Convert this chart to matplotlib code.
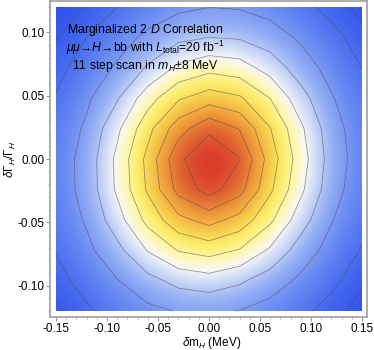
import matplotlib
matplotlib.use("Agg")
import matplotlib.pyplot as plt
import numpy as np
from matplotlib.colors import LinearSegmentedColormap
from matplotlib.patches import Rectangle

# scan grid (11 steps in each direction)
dm = [-0.15, -0.12, -0.09, -0.06, -0.03, 0.0, 0.03, 0.06, 0.09, 0.12, 0.15]
dgam = [-0.12, -0.096, -0.072, -0.048, -0.024, 0.0, 0.024, 0.048, 0.072, 0.096, 0.12]

# marginalized likelihood, rows = dgam (bottom -> top), cols = dm (left -> right)
lik = [
    [0.040, 0.087, 0.136, 0.177, 0.205, 0.213, 0.198, 0.163, 0.120, 0.070, 0.028],
    [0.072, 0.134, 0.196, 0.267, 0.331, 0.356, 0.316, 0.249, 0.181, 0.119, 0.057],
    [0.104, 0.176, 0.271, 0.407, 0.506, 0.539, 0.494, 0.385, 0.253, 0.164, 0.094],
    [0.128, 0.212, 0.358, 0.531, 0.671, 0.737, 0.663, 0.520, 0.345, 0.206, 0.123],
    [0.140, 0.237, 0.417, 0.614, 0.835, 0.941, 0.839, 0.618, 0.421, 0.241, 0.142],
    [0.141, 0.239, 0.424, 0.629, 0.878, 0.991, 0.903, 0.653, 0.447, 0.256, 0.150],
    [0.129, 0.216, 0.379, 0.568, 0.757, 0.878, 0.795, 0.604, 0.419, 0.242, 0.144],
    [0.105, 0.183, 0.291, 0.457, 0.587, 0.652, 0.614, 0.499, 0.339, 0.208, 0.127],
    [0.074, 0.140, 0.213, 0.311, 0.420, 0.467, 0.445, 0.359, 0.249, 0.166, 0.099],
    [0.045, 0.100, 0.160, 0.220, 0.275, 0.300, 0.290, 0.245, 0.185, 0.125, 0.066],
    [0.018, 0.052, 0.100, 0.145, 0.180, 0.198, 0.192, 0.165, 0.122, 0.076, 0.034],
]
levels = [0.05, 0.1, 0.2, 0.3, 0.4, 0.5, 0.6, 0.7, 0.8, 0.9]

plt.rcParams['font.family'] = ['Liberation Sans', 'DejaVu Sans']
plt.rcParams['mathtext.fontset'] = 'custom'
plt.rcParams['mathtext.rm'] = 'Liberation Sans'
plt.rcParams['mathtext.it'] = 'Liberation Sans:italic'
plt.rcParams['mathtext.bf'] = 'Liberation Sans:bold'

# Mathematica-like TemperatureMap
temp = LinearSegmentedColormap.from_list("temperature", [
    (0.00, (0.18, 0.30, 0.92)),
    (0.08, (0.28, 0.42, 0.94)),
    (0.16, (0.42, 0.55, 0.95)),
    (0.25, (0.60, 0.70, 0.96)),
    (0.33, (0.80, 0.85, 0.97)),
    (0.40, (0.97, 0.97, 0.96)),
    (0.47, (1.00, 0.97, 0.68)),
    (0.55, (0.99, 0.93, 0.42)),
    (0.64, (0.97, 0.80, 0.30)),
    (0.74, (0.94, 0.62, 0.23)),
    (0.86, (0.88, 0.38, 0.19)),
    (1.00, (0.84, 0.14, 0.16)),
])

X, Y = np.meshgrid(dm, dgam)
Z = np.array(lik)

fig = plt.figure(figsize=(3.74, 3.5), dpi=100)
ax = fig.add_axes([50/374, 33/350, 317/374, 316/350])

img = ax.imshow(Z, origin='lower', cmap=temp, extent=[-0.165, 0.165, -0.132, 0.132],
                interpolation='bicubic', interpolation_stage='data',
                vmin=Z.min(), vmax=Z.max(), aspect='auto')
img.set_clip_path(Rectangle((-0.15, -0.12), 0.30, 0.24, transform=ax.transData))
ax.contour(X, Y, Z, levels=levels, colors='0.3', linewidths=0.6, alpha=0.55)

ax.set_xlim(-0.1559, 0.1549)
ax.set_ylim(-0.1247, 0.1247)
ax.set_xticks([-0.15, -0.10, -0.05, 0.0, 0.05, 0.10, 0.15])
ax.set_yticks([-0.10, -0.05, 0.0, 0.05, 0.10])
ax.set_xticks(np.arange(-0.15, 0.1501, 0.01), minor=True)
ax.set_yticks(np.arange(-0.12, 0.1201, 0.01), minor=True)
ax.xaxis.set_major_formatter(matplotlib.ticker.FormatStrFormatter('%.2f'))
ax.yaxis.set_major_formatter(matplotlib.ticker.FormatStrFormatter('%.2f'))
ax.tick_params(which='both', direction='out', color='0.6', labelsize=8.5,
               labelcolor='black')
ax.tick_params(which='major', length=3, width=0.8, pad=1)
ax.tick_params(which='minor', length=1.5, width=0.5)
for s in ax.spines.values():
    s.set_color('0.65')
    s.set_linewidth(1.3)

fs = 8.8
ax.text(-0.0625, 0.1018, "Marginalized 2 $\\mathit{D}$ Correlation",
        ha='center', va='center', fontsize=fs)
ax.text(-0.0625, 0.0876,
        "$\\mathit{\\mu\\mu}$\u2192$\\mathit{H}$\u2192bb with $\\mathit{L}_{\\mathrm{total}}$=20 fb$^{-1}$",
        ha='center', va='center', fontsize=fs)
ax.text(-0.0625, 0.0734, "11 step scan in $\\mathit{m_H}$\u00b18 MeV",
        ha='center', va='center', fontsize=fs)

fig.text(212/374, 1 - 343/350, "$\\mathit{\\delta}$m$_{\\mathit{H}}$ (MeV)",
         ha='center', va='center', fontsize=8.5)
fig.text(10/374, 1 - 159/350, "$\\mathit{\\delta\\Gamma_H/\\Gamma_H}$",
         ha='center', va='center', rotation=90, fontsize=8.5)

fig.savefig("out.png", dpi=100)
